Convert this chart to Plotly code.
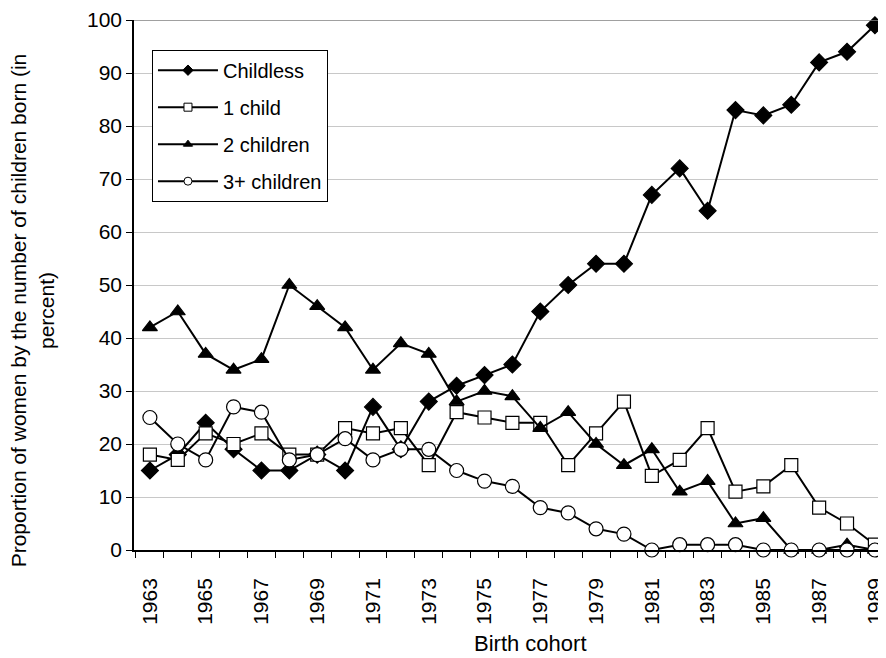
import plotly.graph_objects as go

years = list(range(1963, 1990))
childless = [15, 18, 24, 19, 15, 15, 18, 15, 27, 19, 28, 31, 33, 35, 45, 50, 54, 54, 67, 72, 64, 83, 82, 84, 92, 94, 99]
one_child = [18, 17, 22, 20, 22, 18, 18, 23, 22, 23, 16, 26, 25, 24, 24, 16, 22, 28, 14, 17, 23, 11, 12, 16, 8, 5, 1]
two_children = [42, 45, 37, 34, 36, 50, 46, 42, 34, 39, 37, 28, 30, 29, 23, 26, 20, 16, 19, 11, 13, 5, 6, 0, 0, 1, 0]
three_plus = [25, 20, 17, 27, 26, 17, 18, 21, 17, 19, 19, 15, 13, 12, 8, 7, 4, 3, 0, 1, 1, 1, 0, 0, 0, 0, 0]
tick_years = list(range(1963, 1990, 2))

series = [
    ("Childless", childless, "diamond", "black", 13),
    ("1 child", one_child, "square", "white", 13),
    ("2 children", two_children, "triangle-up", "black", 13),
    ("3+ children", three_plus, "circle", "white", 14),
]

fig = go.Figure()
for i, (name, vals, sym, fill, size) in enumerate(series):
    fig.add_trace(
        go.Scatter(
            x=years,
            y=vals,
            name=name,
            mode="lines+markers",
            line=dict(color="black", width=2),
            marker=dict(symbol=sym, color=fill, size=size, line=dict(color="black", width=1.2)),
            showlegend=False,
            cliponaxis=False,
        )
    )
    # legend entry with the small markers the original uses
    fig.add_trace(
        go.Scatter(
            x=[None],
            y=[None],
            name=name,
            mode="lines+markers",
            line=dict(color="black", width=2),
            marker=dict(symbol=sym, color=fill, size=8, line=dict(color="black", width=1)),
            legendgroup=str(i),
        )
    )

# the page body has an 8px margin, so the figure is sized to sit inside the window
font = "Liberation Sans, Arial, sans-serif"
fig.update_layout(
    width=878,
    height=650,
    margin=dict(l=126, r=0, t=10, b=108),
    plot_bgcolor="white",
    paper_bgcolor="white",
    font=dict(family=font, size=20, color="black"),
    showlegend=True,
    legend=dict(
        x=0.024, y=0.944, xanchor="left", yanchor="top",
        bordercolor="black", borderwidth=1, bgcolor="white",
        font=dict(size=20), tracegroupgap=8, itemwidth=60,
    ),
)

fig.update_xaxes(
    range=[1962.43, 1989.29],
    tickmode="array",
    tickvals=tick_years,
    ticktext=[str(y) for y in tick_years],
    tickangle=-90,
    tickfont=dict(size=21),
    ticks="",
    ticklabelstandoff=18,
    ticklabeloverflow="allow",
    showgrid=False,
    showline=True,
    linecolor="black",
    linewidth=1.5,
    zeroline=False,
    minor=dict(ticks="outside", tick0=1962.5, dtick=1, ticklen=6, tickcolor="black", showgrid=False),
)

fig.update_yaxes(
    range=[0, 100],
    dtick=10,
    ticks="outside",
    ticklen=6,
    tickcolor="black",
    tickfont=dict(size=21),
    ticklabeloverflow="allow",
    showline=True,
    linecolor="black",
    linewidth=1.5,
    gridcolor="#c8c8c8",
    gridwidth=1,
    zeroline=False,
)

fig.add_shape(
    type="line", xref="paper", yref="y", x0=0, x1=1, y0=100, y1=100,
    line=dict(color="#808080", width=1.5),
)

fig.add_annotation(
    text="Proportion of women by the number of children born (in<br>percent)",
    textangle=-90,
    xref="paper", yref="paper",
    x=-0.135, y=0.452,
    xanchor="center", yanchor="middle",
    showarrow=False,
    font=dict(size=21),
)

fig.add_annotation(
    text="Birth cohort",
    xref="paper", yref="paper",
    x=0.53, y=-0.177,
    xanchor="center", yanchor="middle",
    showarrow=False,
    font=dict(size=22),
)

fig.write_html("out.html")
